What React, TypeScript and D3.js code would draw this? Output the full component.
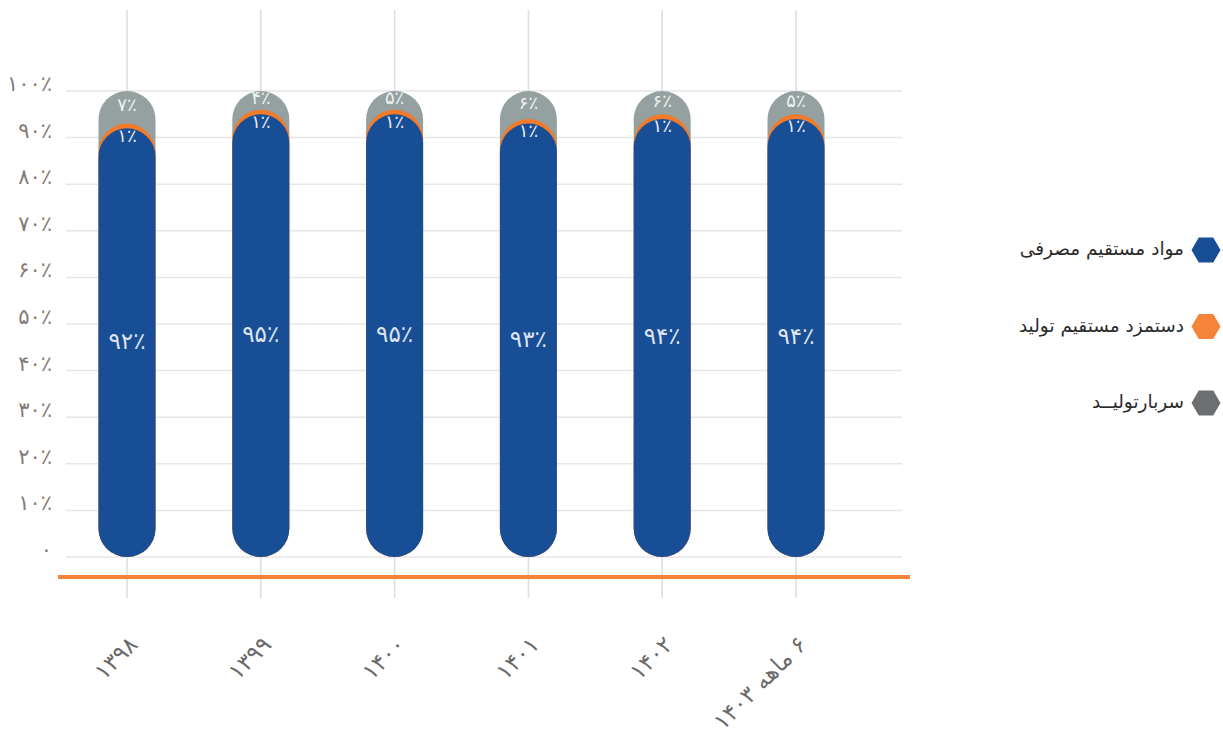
import React from "react";
import * as d3 from "d3";

const categories = ["۱۳۹۸", "۱۳۹۹", "۱۴۰۰", "۱۴۰۱", "۱۴۰۲", "۶ ماهه ۱۴۰۳"];
const materials = [92, 95, 95, 93, 94, 94];
const labor = [1, 1, 1, 1, 1, 1];
const overhead = [7, 4, 5, 6, 6, 5];
const yTicks = [0, 10, 20, 30, 40, 50, 60, 70, 80, 90, 100];
const seriesNames = ["مواد مستقیم مصرفی", "دستمزد مستقیم تولید", "سربارتولیــد"];
const seriesColors = ["#174e96", "#f5843a", "#6c6e70"];

const BLUE = "#174e96";
const ORANGE = "#f27b2b";
const GRAY = "#95a1a1";

const toFa = (s: string | number) =>
  String(s).replace(/[0-9]/g, (d) => "۰۱۲۳۴۵۶۷۸۹"[+d]);
const pct = (v: number) => toFa(v) + "٪";

const FONT = "'DejaVu Sans', sans-serif";

export default function App() {
  const W = 1223,
    H = 734;
  const x = d3.scalePoint<string>().domain(categories).range([127, 796]);
  const y = d3.scaleLinear().domain([0, 100]).range([557, 91]);
  const bw = 57;
  const r = bw / 2;

  const hex = (cx: number, cy: number, w: number, h: number) => {
    const pts = [
      [cx - w / 2, cy],
      [cx - w / 4, cy - h / 2],
      [cx + w / 4, cy - h / 2],
      [cx + w / 2, cy],
      [cx + w / 4, cy + h / 2],
      [cx - w / 4, cy + h / 2],
    ];
    return d3.line()(pts as [number, number][]) + "Z";
  };

  return (
    <svg
      width={W}
      height={H}
      style={{ position: "absolute", left: 0, top: 0, display: "block", background: "#fff" }}
    >
      {yTicks.map((t) => (
        <line key={"g" + t} x1={66} x2={902} y1={y(t)} y2={y(t)} stroke="#e6e6e6" strokeWidth={1.5} />
      ))}
      {categories.map((c) => (
        <line key={"v" + c} x1={x(c)} x2={x(c)} y1={10} y2={598} stroke="#dcdcdc" strokeWidth={1.5} />
      ))}
      {yTicks.map((t) => (
        <text
          key={"yl" + t}
          x={52}
          y={y(t) - 6}
          textAnchor="end"
          dominantBaseline="middle"
          fontFamily={FONT}
          fontSize={21}
          fill="#857a75"
        >
          {t === 0 ? toFa(0) : pct(t)}
        </text>
      ))}
      {categories.map((c, i) => {
        const cx = x(c)!;
        const top = y(materials[i] + labor[i]);
        return (
          <g key={"b" + c}>
            <rect x={cx - r} y={y(100)} width={bw} height={y(0) - y(100)} rx={r} ry={r} fill={GRAY} />
            <rect x={cx - r} y={top} width={bw} height={y(0) - top} rx={r} ry={r} fill={ORANGE} />
            <rect
              x={cx - r}
              y={y(materials[i])}
              width={bw}
              height={y(0) - y(materials[i])}
              rx={r}
              ry={r}
              fill={BLUE}
            />
            <text
              x={cx}
              y={(y(0) + y(materials[i])) / 2}
              textAnchor="middle"
              dominantBaseline="middle"
              fontFamily={FONT}
              fontSize={23}
              fill="#dde3ee"
            >
              {pct(materials[i])}
            </text>
            <text
              x={cx}
              y={top + 13}
              textAnchor="middle"
              dominantBaseline="middle"
              fontFamily={FONT}
              fontSize={18}
              fill="#e6eaf2"
            >
              {pct(labor[i])}
            </text>
            <text
              x={cx}
              y={(y(100) + top) / 2 - 1}
              textAnchor="middle"
              dominantBaseline="middle"
              fontFamily={FONT}
              fontSize={18}
              fill="#eef1f1"
            >
              {pct(overhead[i])}
            </text>
          </g>
        );
      })}
      <line x1={58} x2={910} y1={577} y2={577} stroke="#f5843a" strokeWidth={4} />
      {categories.map((c) => (
        <text
          key={"xl" + c}
          transform={`translate(${x(c)! + 12},${646}) rotate(-45)`}
          direction="rtl"
          textAnchor="start"
          fontFamily={FONT}
          fontSize={23}
          fill="#6b6b6b"
        >
          {c}
        </text>
      ))}
      {seriesNames.map((n, i) => {
        const cy = 250 + i * 76.5;
        return (
          <g key={"lg" + i}>
            <path d={hex(1206, cy, 29, 25)} fill={seriesColors[i]} />
            <text
              x={1184}
              y={cy}
              direction="rtl"
              textAnchor="start"
              dominantBaseline="middle"
              fontFamily={FONT}
              fontSize={18.5}
              fill="#2b2b2b"
            >
              {n}
            </text>
          </g>
        );
      })}
    </svg>
  );
}
